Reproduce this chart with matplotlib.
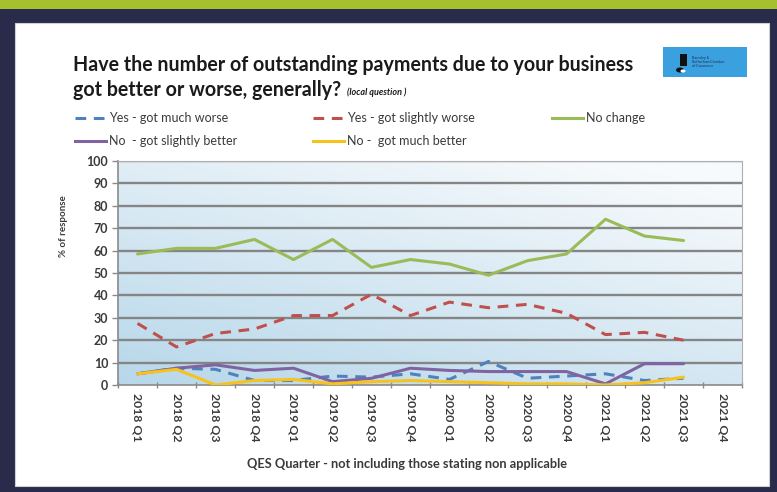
#!/usr/bin/env python3
"""Outstanding payments survey chart: share of responses per QES quarter."""

import matplotlib
matplotlib.use("Agg")
import matplotlib.pyplot as plt
import numpy as np
from matplotlib.lines import Line2D
from matplotlib.patches import Rectangle, Circle

quarters = [
    "2018 Q1", "2018 Q2", "2018 Q3", "2018 Q4",
    "2019 Q1", "2019 Q2", "2019 Q3", "2019 Q4",
    "2020 Q1", "2020 Q2", "2020 Q3", "2020 Q4",
    "2021 Q1", "2021 Q2", "2021 Q3", "2021 Q4",
]

# 2021 Q4 not yet surveyed
much_worse = [5, 7.5, 7, 2, 2, 4, 3.5, 5, 2.5, 10.5, 3, 4, 5, 2, 3]
slightly_worse = [27.5, 17, 23, 25, 31, 31, 40.5, 31, 37, 34.5, 36, 32, 22.5, 23.5, 20]
no_change = [58.5, 61, 61, 65, 56, 65, 52.5, 56, 54, 49, 55.5, 58.5, 74, 66.5, 64.5]
slightly_better = [5, 7.5, 9, 6.5, 7.5, 1.5, 3, 7.5, 6.5, 6, 6, 6, 0.5, 9.5, 9.5]
much_better = [5, 7, 0, 2, 2.5, 0.5, 1.5, 2, 1.5, 1, 0.5, 0.5, 0, 1, 3.5]

series = [
    ("Yes - got much worse", much_worse, "#4f81bd", (0, (3.5, 2.5))),
    ("Yes - got slightly worse", slightly_worse, "#c0504d", (0, (3.5, 2.5))),
    ("No change", no_change, "#9bbb59", "-"),
    ("No  - got slightly better", slightly_better, "#8064a2", "-"),
    ("No -  got much better", much_better, "#f8c21c", "-"),
]

W, H = 777, 492
NAVY = "#282b4a"
FONT = "Lato"


def fx(x):
    return x / W


def fy(y):
    return 1 - y / H


fig = plt.figure(figsize=(W / 100, H / 100), dpi=100)
fig.patch.set_facecolor(NAVY)

# green strip along the top and the white card, kept behind the axes
fig.add_artist(Rectangle((0, fy(9)), 1, 9 / H, transform=fig.transFigure,
                         facecolor="#a6bf2f", edgecolor="none", zorder=-10))
fig.add_artist(Rectangle((fx(15), fy(486)), (769 - 15) / W, (486 - 23) / H,
                         transform=fig.transFigure, facecolor="white",
                         edgecolor="#d0d0d0", lw=0.8, zorder=-10))

# plot area
ax = fig.add_axes([fx(118), fy(385), (742 - 118) / W, (385 - 161) / H])
ax.set_facecolor("white")

gx, gy = np.meshgrid(np.linspace(0, 1, 200), np.linspace(0, 1, 200))
t = np.clip(0.65 * (1 - gy) + 0.45 * (1 - gx) - 0.1, 0, 1)
top = np.array([0xf7, 0xfa, 0xfc]) / 255
bot = np.array([0xb7, 0xd7, 0xea]) / 255
grad = top[None, None, :] * (1 - t[..., None]) + bot[None, None, :] * t[..., None]
ax.imshow(grad, extent=[0, 1, 0, 1], transform=ax.transAxes, origin="lower",
          aspect="auto", zorder=0, interpolation="bilinear")

for y in range(10, 101, 10):
    ax.axhline(y, color="#858585", lw=1.7, zorder=1)

x = np.arange(len(quarters))
for label, vals, color, ls in series:
    ax.plot(x[:len(vals)], vals, color=color, lw=2.2, ls=ls, zorder=3,
            solid_capstyle="round", dash_capstyle="butt", label=label)

ax.set_xlim(-0.5, len(quarters) - 0.5)
ax.set_ylim(0, 100)
ax.set_yticks(range(0, 101, 10))
ax.set_xticks(x)
ax.set_xticklabels(quarters, rotation=270, fontsize=8.8, fontweight="bold",
                   color="#3a3a3a", family=FONT)
ax.set_xticks(np.arange(-0.5, len(quarters)), minor=True)
ax.tick_params(axis="x", which="major", length=0, pad=6)
ax.tick_params(axis="x", which="minor", length=4, direction="inout",
               color="#8a8a8a", width=1)
ax.tick_params(axis="y", length=4, color="#8a8a8a", width=1, pad=3)
for lab in ax.get_yticklabels():
    lab.set_fontsize(9)
    lab.set_fontweight("bold")
    lab.set_color("#3a3a3a")
    lab.set_family(FONT)
for side in ("left", "bottom"):
    ax.spines[side].set_color("#8a8a8a")
    ax.spines[side].set_linewidth(1.2)
for side in ("top", "right"):
    ax.spines[side].set_color("#b0b0b0")
    ax.spines[side].set_linewidth(0.8)

fig.text(fx(63), fy(226), "% of response", rotation=90, ha="center", va="center",
         fontsize=7, fontweight="bold", color="#3a3a3a", family=FONT)
fig.text(fx(407), fy(464), "QES Quarter - not including those stating non applicable",
         ha="center", va="center", fontsize=9.2, fontweight="bold", color="#3a3a3a",
         family=FONT)

# title
fig.text(fx(73), fy(65), "Have the number of outstanding payments due to your business",
         ha="left", va="center", fontsize=14.1, fontweight="bold", color="#1a1a1a",
         family=FONT)
fig.text(fx(73), fy(90), "got better or worse, generally?", ha="left", va="center",
         fontsize=14.1, fontweight="bold", color="#1a1a1a", family=FONT)
fig.text(fx(347), fy(92), "(local question )", ha="left", va="center", fontsize=6.5,
         fontweight="bold", style="italic", color="#1a1a1a", family=FONT)

# legend laid out in the same grid as the survey report
legend_pos = [(75, 118), (313, 118), (552, 118), (75, 141), (313, 141)]
for (label, vals, color, ls), (lx, ly) in zip(series, legend_pos):
    fig.add_artist(Line2D([fx(lx), fx(lx + 31)], [fy(ly), fy(ly)], color=color, lw=2.2,
                          ls=ls, transform=fig.transFigure))
    fig.text(fx(lx + 34), fy(ly), label, ha="left", va="center", fontsize=9,
             color="#3a3a3a", family=FONT)

# chamber logo badge
fig.add_artist(Rectangle((fx(663), fy(77)), 84 / W, 30 / H, transform=fig.transFigure,
                         facecolor="#3ba1de", edgecolor="none"))
fig.add_artist(Rectangle((fx(680), fy(66)), 7 / W, 12 / H, transform=fig.transFigure,
                         facecolor="#111111", edgecolor="none"))
fig.add_artist(Circle((fx(680), fy(70)), 4 / W, transform=fig.transFigure,
                      facecolor="#111111", edgecolor="none"))
fig.add_artist(Circle((fx(683), fy(71)), 2.5 / W, transform=fig.transFigure,
                      facecolor="white", edgecolor="none"))
fig.text(fx(692), fy(62), "Barnsley &\nRotherham Chamber\nof Commerce", ha="left", va="center",
         fontsize=2.6, color="#1a2f55", family=FONT, linespacing=1.1)

fig.savefig("out.png", dpi=100, facecolor=NAVY)
